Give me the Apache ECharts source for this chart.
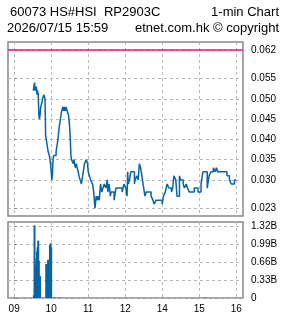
<!DOCTYPE html>
<html><head><meta charset="utf-8">
<script src="https://cdn.jsdelivr.net/npm/echarts@6/dist/echarts.min.js"></script>
<style>html,body{margin:0;padding:0;background:#fff}#c{width:285px;height:318px}</style>
</head><body><div id="c"></div>
<script>
const priceTimes = ['09:31','09:33','09:34','09:36','09:37','09:38','09:39','09:40','09:41','09:42','09:43','09:45','09:46','09:48','09:50','09:51','09:53','09:55','09:57','09:59','10:00','10:01','10:02','10:03','10:04','10:08','10:10','10:11','10:13','10:15','10:16','10:17','10:19','10:20','10:21','10:23','10:24','10:26','10:28','10:30','10:31','10:32','10:33','10:36','10:37','10:39','10:41','10:42','10:44','10:45','10:47','10:49','10:51','10:52','10:54','10:57','10:59','11:00','11:02','11:04','11:07','11:09','11:10','11:11','11:13','11:15','11:16','11:18','11:20','11:22','11:24','11:26','11:29','11:31','11:32','11:34','11:36','11:37','11:42','11:44','11:45','11:55','11:58','13:01','13:03','13:04','13:05','13:07','13:09','13:15','13:16','13:19','13:21','13:23','13:25','13:27','13:29','13:31','13:32','13:34','13:42','13:45','13:47','13:50','14:00','14:02','14:05','14:08','14:11','14:15','14:17','14:19','14:22','14:24','14:28','14:30','14:34','14:36','14:39','14:41','14:44','14:52','14:58','15:03','15:06','15:13','15:16','15:19','15:23','15:26','15:28','15:30','15:45','15:49','15:52','15:57','16:00'];
const priceValues = [0.052,0.054,0.052,0.053,0.051,0.052,0.051,0.046,0.045,0.046,0.048,0.049,0.050,0.051,0.050,0.041,0.039,0.037,0.036,0.034,0.032,0.030,0.031,0.035,0.036,0.037,0.039,0.040,0.043,0.045,0.046,0.047,0.048,0.047,0.048,0.047,0.048,0.047,0.046,0.043,0.040,0.036,0.035,0.034,0.035,0.033,0.034,0.033,0.032,0.031,0.030,0.029,0.031,0.032,0.034,0.035,0.034,0.032,0.031,0.030,0.029,0.027,0.025,0.023,0.026,0.025,0.026,0.025,0.029,0.027,0.028,0.029,0.028,0.030,0.027,0.029,0.026,0.027,0.025,0.027,0.028,0.027,0.029,0.028,0.026,0.032,0.029,0.030,0.032,0.029,0.030,0.031,0.030,0.034,0.033,0.031,0.029,0.027,0.026,0.027,0.026,0.025,0.024,0.025,0.024,0.026,0.027,0.029,0.028,0.027,0.028,0.031,0.030,0.026,0.031,0.030,0.029,0.028,0.029,0.028,0.027,0.028,0.027,0.029,0.032,0.028,0.031,0.032,0.033,0.032,0.033,0.032,0.031,0.030,0.029,0.030,0.030];
const volTimes = ['09:32','09:33','09:35','09:36','09:37','09:38','09:39','09:40','09:42','09:52','09:53','09:54','09:55','09:56','09:57','09:58','09:59','10:00','10:05','10:13','15:10'];
const volValues = [0.05,1.33,0.60,0.72,0.85,0.93,1.05,0.68,0.40,0.62,0.62,0.62,0.70,0.58,0.58,0.97,1.00,0.92,0.01,0.01,0.01]; // billions
const hourTicks = ['09:00','10:00','11:00','12:00','14:00','15:00','16:00'];
const hourLabels = ['09','10','11','12','14','15','16'];
const priceTicks = [0.023,0.030,0.035,0.040,0.045,0.050,0.055,0.062];
const refLevel = 0.062;
const volTicks = [0,0.33,0.66,0.99,1.32];

function toMin(t){const p=t.split(':').map(Number);let v=(p[0]-9)*60+p[1];if(p[0]>=13)v-=60;return v;}
const hourVals = hourTicks.map(toMin);
const labelMap = {}; hourVals.forEach((v,i)=>labelMap[v]=hourLabels[i]);
const xMin = -10, xMax = 371;

const blue = '#0a64a4';
const gridLine = {show:true,lineStyle:{color:'#b8b8b8',type:[3,3],width:1}};
const lblFont = {color:'#000',fontFamily:'Liberation Sans',fontSize:10};
const chart = echarts.init(document.getElementById('c'),null,{renderer:'canvas'});
chart.setOption({
  animation:false,
  backgroundColor:'#fff',
  graphic:[
    {type:'text',left:10,top:6,style:{text:'60073 HS#HSI  RP2903C',font:'13px "Liberation Sans"',fill:'#000'}},
    {type:'text',right:6,top:6,style:{text:'1-min Chart',font:'13px "Liberation Sans"',fill:'#000'}},
    {type:'text',left:7,top:22,style:{text:'2026/07/15 15:59',font:'13px "Liberation Sans"',fill:'#000'}},
    {type:'text',right:6,top:22,style:{text:'etnet.com.hk © copyright',font:'13px "Liberation Sans"',fill:'#000'}}
  ],
  grid:[
    {left:8,top:42,width:235,height:174,show:true,borderColor:'#888',borderWidth:1.5,backgroundColor:'transparent'},
    {left:8,top:222,width:235,height:76,show:true,borderColor:'#888',borderWidth:1.5,backgroundColor:'transparent'}
  ],
  xAxis:[
    {gridIndex:0,type:'value',min:xMin,max:xMax,axisLine:{show:false},axisTick:{show:false,customValues:hourVals},axisLabel:{show:false,customValues:hourVals},splitLine:gridLine},
    {gridIndex:1,type:'value',min:xMin,max:xMax,axisLine:{show:false},axisTick:{show:false,customValues:hourVals},
      axisLabel:Object.assign({customValues:hourVals,margin:6,formatter:v=>labelMap[v]||''},lblFont),splitLine:gridLine}
  ],
  yAxis:[
    {gridIndex:0,type:'value',position:'right',min:0.0211,max:0.0640,axisLine:{show:false},
      axisTick:{show:true,length:3,customValues:priceTicks,lineStyle:{color:'#888'}},
      axisLabel:Object.assign({customValues:priceTicks,margin:8,formatter:v=>v.toFixed(3)},lblFont),splitLine:gridLine},
    {gridIndex:1,type:'value',position:'right',min:0,max:1.39,axisLine:{show:false},
      axisTick:{show:true,length:3,customValues:volTicks,lineStyle:{color:'#888'}},
      axisLabel:Object.assign({customValues:volTicks,margin:8,formatter:v=>v===0?'0':v.toFixed(2)+'B'},lblFont),splitLine:gridLine}
  ],
  series:[
    {type:'line',xAxisIndex:0,yAxisIndex:0,symbol:'none',silent:true,z:3,
      data:[[xMin,refLevel],[xMax,refLevel]],lineStyle:{color:'#ff0a80',width:1.5}},
    {type:'line',xAxisIndex:0,yAxisIndex:0,step:'end',symbol:'none',z:4,
      data:priceTimes.map((t,i)=>[toMin(t),priceValues[i]]),
      lineStyle:{color:blue,width:1.5}},
    {type:'bar',xAxisIndex:1,yAxisIndex:1,barWidth:2,itemStyle:{color:blue},
      data:volTimes.map((t,i)=>[toMin(t),volValues[i]])}
  ]
});
</script></body></html>
